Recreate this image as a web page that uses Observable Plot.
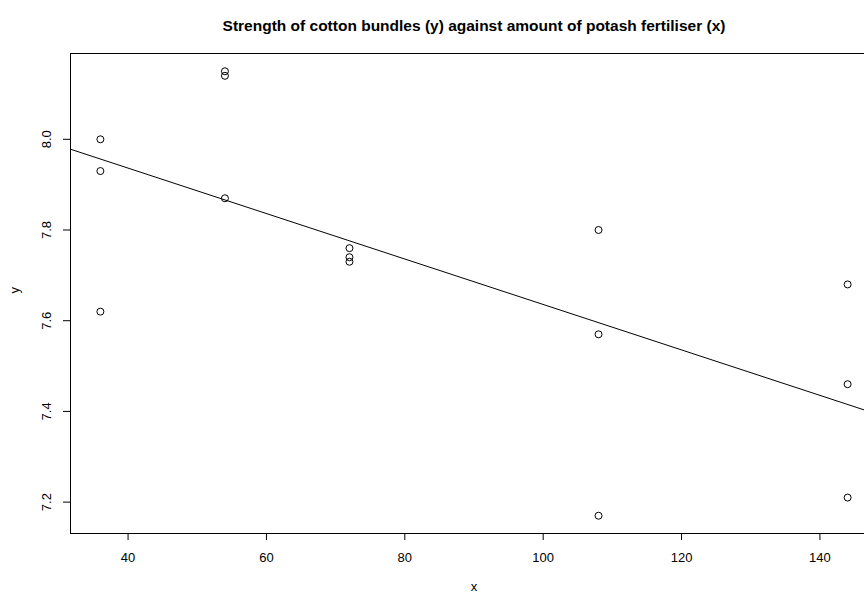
<!DOCTYPE html>
<html>
<head>
<meta charset="utf-8">
<script src="https://cdn.jsdelivr.net/npm/d3@7"></script>
<script src="https://cdn.jsdelivr.net/npm/@observablehq/plot@0.6"></script>
<style>
  html, body { margin: 0; padding: 0; background: #fff; overflow: hidden; width: 864px; height: 594px; }
  #chart { width: 900px; }
  #chart svg { display: block; max-width: none !important; width: 900px !important; height: 594px !important; }
</style>
</head>
<body>
<div id="chart"></div>
<script>
// Data: potash fertiliser amount (x) and cotton bundle strength (y)
const potash = [36, 36, 36, 54, 54, 54, 72, 72, 72, 108, 108, 108, 144, 144, 144];
const strength = [7.62, 8.00, 7.93, 8.14, 8.15, 7.87, 7.76, 7.73, 7.74, 7.17, 7.57, 7.80, 7.46, 7.68, 7.21];
const xTicks = [40, 60, 80, 100, 120, 140];
const yTicks = [7.2, 7.4, 7.6, 7.8, 8.0];
const titleText = "Strength of cotton bundles (y) against amount of potash fertiliser (x)";
const xLabel = "x";
const yLabel = "y";

const pts = potash.map((x, i) => ({x, y: strength[i]}));

// R-style 4% domain expansion
function expand([a, b]) { const d = (b - a) * 0.04; return [a - d, b + d]; }
const xDom = expand(d3.extent(potash));
const yDom = expand(d3.extent(strength));

// least squares fit (abline(lm(y ~ x)))
const mx = d3.mean(potash), my = d3.mean(strength);
const sxy = d3.sum(pts, d => (d.x - mx) * (d.y - my));
const sxx = d3.sum(pts, d => (d.x - mx) ** 2);
const slope = sxy / sxx, intercept = my - slope * mx;
const fitLine = xDom.map(x => ({x, y: intercept + slope * x}));

const font = "'Liberation Sans', Arial, Helvetica, sans-serif";

const chart = Plot.plot({
  width: 900,
  height: 594,
  marginLeft: 70,
  marginRight: 23,
  marginTop: 53,
  marginBottom: 61,
  style: {fontFamily: font, fontSize: "13px", color: "#000", background: "#fff"},
  x: {domain: xDom},
  y: {domain: yDom},
  marks: [
    Plot.frame({stroke: "#000", strokeWidth: 1}),
    Plot.axisX({ticks: xTicks, tickSize: 7, tickPadding: 12, fontSize: 13, label: null, stroke: "#000"}),
    Plot.axisY({ticks: yTicks, tickSize: 7, tickPadding: 13, tickRotate: -90, fontSize: 13, label: null, stroke: "#000", tickFormat: d => d.toFixed(1)}),
    Plot.line(fitLine, {x: "x", y: "y", stroke: "#000", strokeWidth: 1, clip: true}),
    Plot.dot(pts, {x: "x", y: "y", r: 3.5, stroke: "#000", strokeWidth: 1, fill: "none"}),
    Plot.text([titleText], {frameAnchor: "top", dy: -34, text: d => d, fontWeight: "bold", fontSize: 15.5, fill: "#000"}),
    Plot.text([xLabel], {frameAnchor: "bottom", dy: 57, text: d => d, fontSize: 13, fill: "#000"}),
    Plot.text([yLabel], {frameAnchor: "left", dx: -56, rotate: -90, text: d => d, fontSize: 13, fill: "#000"})
  ]
});
document.getElementById("chart").appendChild(chart);
</script>
</body>
</html>
